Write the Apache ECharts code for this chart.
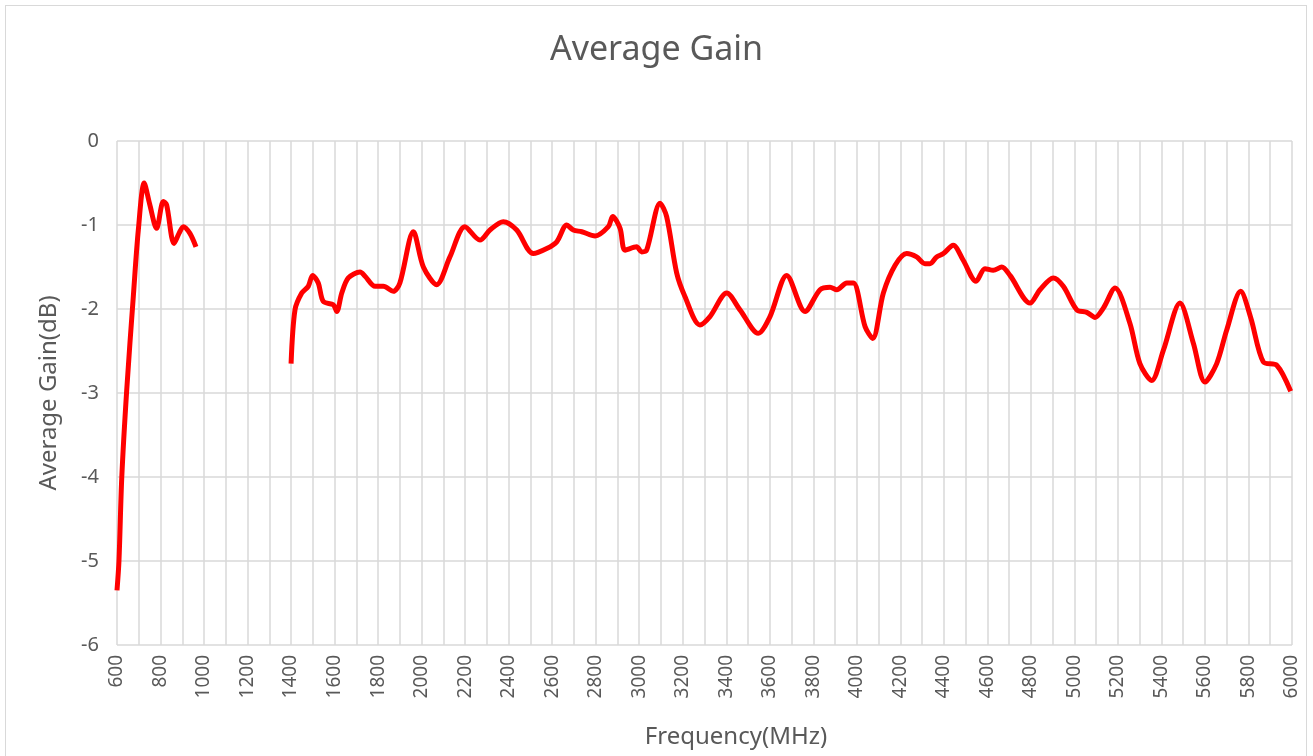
<!DOCTYPE html>
<html>
<head>
<meta charset="utf-8">
<script src="https://cdn.jsdelivr.net/npm/echarts@6.0.0/dist/echarts.min.js"></script>
<style>
  html, body { margin: 0; padding: 0; background: #fff; width: 1313px; height: 756px; overflow: hidden; }
  #main { position: absolute; left: 0; top: 0; width: 1313px; height: 756px; }
  #frame { position: absolute; left: 5px; top: 5px; width: 1302px; height: 751px; border: 1px solid #d9d9d9; border-bottom: none; box-sizing: border-box; }
</style>
</head>
<body>
<div id="frame"></div>
<div id="main"></div>
<script>
// low band, 600 - ~960 MHz
var freqLow = [600, 609, 622, 645, 675, 698, 725, 750, 782, 813, 828, 862, 885, 905, 935, 963];
var gainLow = [-5.35, -5.0, -4.0, -2.95, -1.85, -1.06, -0.5, -0.75, -1.04, -0.72, -0.76, -1.22, -1.1, -1.02, -1.1, -1.26];

// high band, 1400 - 6000 MHz
var freqHigh = [1400, 1418, 1449, 1479, 1499, 1525, 1548, 1594, 1610, 1633, 1663, 1717, 1740, 1786, 1824, 1870, 1900,
  1962, 2008, 2069, 2130, 2199, 2268, 2314, 2375, 2437, 2513, 2575, 2621, 2667, 2697, 2736, 2797, 2858, 2878, 2912,
  2935, 2988, 3011, 3034, 3096, 3126, 3172, 3210, 3279, 3325, 3402, 3463, 3547, 3601, 3678, 3762, 3831, 3877, 3908,
  3954, 3984, 4038, 4073, 4122, 4176, 4229, 4275, 4313, 4336, 4367, 4398, 4443, 4489, 4548, 4589, 4627, 4666, 4704,
  4796, 4842, 4903, 4949, 5011, 5057, 5095, 5133, 5187, 5255, 5301, 5355, 5409, 5485, 5547, 5600, 5654, 5700, 5764,
  5810, 5868, 5930, 5994];
var gainHigh = [-2.65, -2.01, -1.81, -1.73, -1.6, -1.69, -1.91, -1.95, -2.03, -1.81, -1.63, -1.56, -1.61, -1.73, -1.73, -1.79, -1.69,
  -1.08, -1.5, -1.71, -1.38, -1.02, -1.18, -1.06, -0.96, -1.06, -1.34, -1.28, -1.2, -1.0, -1.06, -1.08, -1.13, -1.02, -0.9, -1.04,
  -1.3, -1.26, -1.32, -1.3, -0.74, -0.9, -1.57, -1.85, -2.19, -2.09, -1.81, -2.01, -2.29, -2.09, -1.6, -2.03, -1.77, -1.74, -1.77,
  -1.69, -1.69, -2.21, -2.35, -1.81, -1.48, -1.34, -1.38, -1.46, -1.46, -1.38, -1.34, -1.24, -1.42, -1.67, -1.52, -1.54, -1.5, -1.6,
  -1.93, -1.77, -1.63, -1.73, -2.01, -2.04, -2.1, -1.99, -1.75, -2.17, -2.65, -2.85, -2.49, -1.93, -2.41, -2.87, -2.65, -2.25, -1.79,
  -2.1, -2.63, -2.67, -2.98];

function pairs(xs, ys) {
  return xs.map(function (x, i) { return [x, ys[i]]; });
}

var textColor = '#595959';
var gridColor = '#d9d9d9';
var font = 'Noto Sans';

var myChart = echarts.init(document.getElementById('main'));

var lineStyle = { color: '#ff0000', width: 5 };

var option = {
  animation: false,
  title: {
    text: 'Average Gain',
    left: 'center',
    top: 28,
    textStyle: { color: textColor, fontSize: 34, fontWeight: 'normal', fontFamily: font }
  },
  grid: { left: 117, right: 21, top: 141, bottom: 111, containLabel: false },
  xAxis: {
    type: 'value',
    min: 600,
    max: 6000,
    interval: 100,
    name: 'Frequency(MHz)',
    nameLocation: 'middle',
    nameGap: 80,
    nameTextStyle: { color: textColor, fontSize: 24, fontFamily: font, padding: [0, 0, 0, 63] },
    axisLine: { show: false },
    axisTick: { show: false },
    axisLabel: {
      rotate: 90,
      margin: 10,
      color: textColor,
      fontSize: 19,
      fontFamily: font,
      formatter: function (v) { return v % 200 === 0 ? String(v) : ''; }
    },
    splitLine: { show: true, lineStyle: { color: gridColor, width: 1.5 } }
  },
  yAxis: {
    type: 'value',
    min: -6,
    max: 0,
    interval: 1,
    name: 'Average Gain(dB)',
    nameLocation: 'middle',
    nameGap: 56,
    nameTextStyle: { color: textColor, fontSize: 24, fontFamily: font },
    axisLine: { show: false },
    axisTick: { show: false },
    axisLabel: { color: textColor, fontSize: 20, fontFamily: font, margin: 18 },
    splitLine: { show: true, lineStyle: { color: gridColor, width: 1.5 } }
  },
  series: [
    {
      type: 'line',
      data: pairs(freqLow, gainLow),
      smooth: 0.3,
      showSymbol: false,
      lineStyle: lineStyle
    },
    {
      type: 'line',
      data: pairs(freqHigh, gainHigh),
      smooth: 0.3,
      showSymbol: false,
      lineStyle: lineStyle
    }
  ]
};

myChart.setOption(option);
</script>
</body>
</html>
